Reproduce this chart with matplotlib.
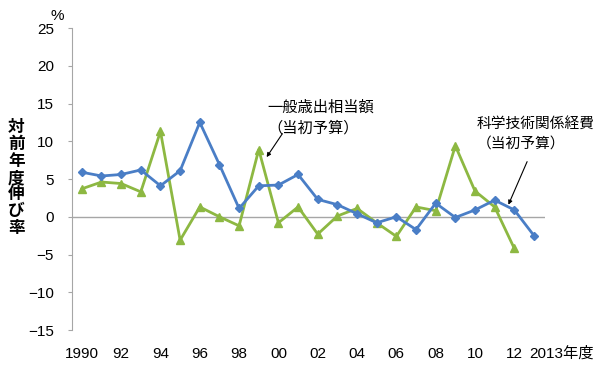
import matplotlib.pyplot as plt
import numpy as np

plt.rcParams['font.family'] = ['Liberation Sans', 'Noto Sans CJK JP']

# 年度
years_st = np.arange(1990, 2014)
years_gen = np.arange(1990, 2013)

# 科学技術関係経費（当初予算）対前年度伸び率 %
st_growth = [5.9, 5.4, 5.6, 6.2, 4.1, 6.1, 12.5, 6.9, 1.1, 4.1,
             4.2, 5.6, 2.3, 1.6, 0.4, -0.8, 0.0, -1.7, 1.8, -0.1,
             0.9, 2.2, 0.9, -2.5]
# 一般歳出相当額（当初予算）対前年度伸び率 %
gen_growth = [3.7, 4.6, 4.4, 3.3, 11.3, -3.1, 1.3, 0.0, -1.2, 8.9,
              -0.8, 1.3, -2.3, 0.1, 1.1, -0.8, -2.6, 1.3, 0.8, 9.4,
              3.4, 1.3, -4.2]

xtick_pos = list(range(1990, 2013, 2))
xtick_lab = ['1990', '92', '94', '96', '98', '00', '02', '04', '06', '08', '10', '12']

fig = plt.figure(figsize=(6, 3.71), dpi=100)
ax = fig.add_axes([0.12, 0.1105, 0.788, 0.814])

blue = '#4A7EC6'
green = '#8DB842'
gray = '#A6A6A6'

ax.axhline(0, color=gray, lw=1, zorder=1)
ax.plot(years_st, st_growth, color=blue, lw=2, marker='D', ms=4.5, zorder=3)
ax.plot(years_gen, gen_growth, color=green, lw=2, marker='^', ms=6, zorder=2)

ax.set_xlim(1989.5, 2013.55)
ax.set_ylim(-15, 25)
ax.set_yticks(range(-15, 26, 5))
ax.set_yticklabels([str(v).replace('-', '\u2212') for v in range(-15, 26, 5)], fontsize=11)
ax.set_xticks(xtick_pos)
ax.set_xticklabels(xtick_lab, fontsize=11)
ax.tick_params(axis='x', length=0, pad=12)
ax.tick_params(axis='y', length=3, color=gray, pad=10)

for s in ['top', 'right', 'bottom']:
    ax.spines[s].set_visible(False)
ax.spines['left'].set_color(gray)

ax.annotate('2013年度', xy=(2012.75, 0), xycoords=('data', 'axes fraction'),
            xytext=(0, -12), textcoords='offset points', ha='left', va='top', fontsize=11)

fig.text(0.095, 0.957, '%', fontsize=11, ha='center', va='center')
fig.text(0.027, 0.52, '対\n前\n年\n度\n伸\nび\n率', fontsize=12, fontweight='bold',
         ha='center', va='center', linespacing=1.12)

# 一般歳出相当額 label
ax.text(1999.45, 14.5, '一般歳出相当額', fontsize=11, ha='left', va='center')
ax.text(1999.45, 11.75, '（当初予算）', fontsize=11, ha='left', va='center')
ax.annotate('', xy=(1999.4, 7.9), xytext=(2000.2, 11.0),
            arrowprops=dict(arrowstyle='-|>', color='black', lw=0.8,
                            shrinkA=0, shrinkB=0, mutation_scale=6))

# 科学技術関係経費 label
ax.text(2010.1, 12.15, '科学技術関係経費', fontsize=10.6, ha='left', va='center')
ax.text(2010.1, 9.6, '（当初予算）', fontsize=10.6, ha='left', va='center')
ax.annotate('', xy=(2011.7, 1.6), xytext=(2012.65, 7.3),
            arrowprops=dict(arrowstyle='-|>', color='black', lw=0.8,
                            shrinkA=0, shrinkB=0, mutation_scale=6))

fig.savefig('out.png', dpi=100)
